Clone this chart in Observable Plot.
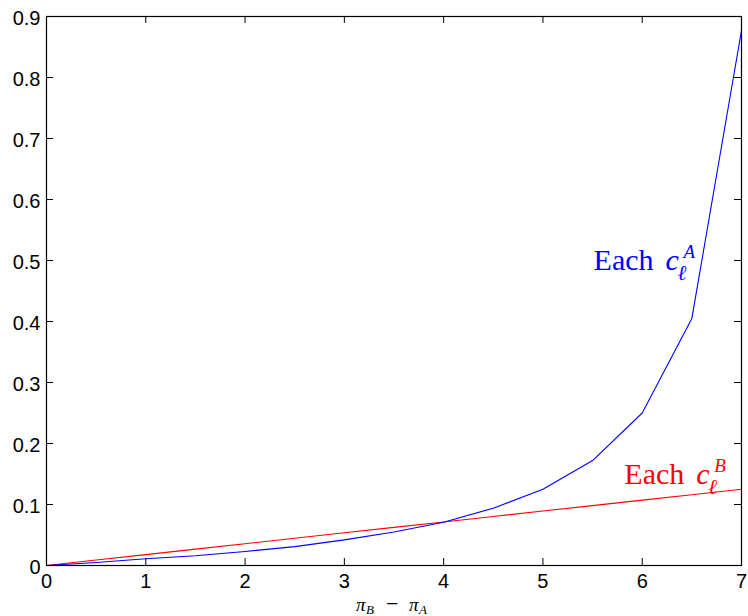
<!DOCTYPE html>
<html>
<head>
<meta charset="utf-8">
<script src="https://cdn.jsdelivr.net/npm/d3@7"></script>
<script src="https://cdn.jsdelivr.net/npm/@observablehq/plot@0.6"></script>
<style>
  html, body { margin: 0; padding: 0; background: #fff; }
  #chart { width: 748px; height: 616px; }
  svg { display: block; }
</style>
</head>
<body>
<div id="chart"></div>
<script>
// ---- data ----
const xValues = [0, 0.5, 1, 1.5, 2, 2.5, 3, 3.5, 4, 4.5, 5, 5.5, 6, 6.5, 7];
const seriesA = [0, 0.005, 0.011, 0.016, 0.023, 0.031, 0.042, 0.055, 0.071, 0.094, 0.125, 0.172, 0.25, 0.405, 0.877];
const seriesB = [0, 0.0089, 0.0179, 0.0268, 0.0357, 0.0446, 0.0536, 0.0625, 0.0714, 0.0804, 0.0893, 0.0982, 0.1071, 0.1161, 0.125];
const xTicks = [0, 1, 2, 3, 4, 5, 6, 7];
const yTicks = [0, 0.1, 0.2, 0.3, 0.4, 0.5, 0.6, 0.7, 0.8, 0.9];
const yTickLabels = ["0", "0.1", "0.2", "0.3", "0.4", "0.5", "0.6", "0.7", "0.8", "0.9"];
const labelWords = ["Each", "Each"];
const labelSymbol = ["c", "c"];
const labelSup = ["A", "B"];
const labelSub = ["\u2113", "\u2113"];
const labelX = [5.51, 5.82];
const labelY = [0.484, 0.133];
const labelColors = ["#0000ff", "#ff0000"];

const dataA = xValues.map((x, i) => ({x, y: seriesA[i]}));
const dataB = xValues.map((x, i) => ({x, y: seriesB[i]}));
const labels = labelWords.map((w, i) => ({w, s: labelSymbol[i], sup: labelSup[i], sub: labelSub[i], x: labelX[i], y: labelY[i], c: labelColors[i]}));

const W = 748, H = 616, mL = 46, mR = 7, mT = 16, mB = 51;
const pw = W - mL - mR, ph = H - mT - mB, tl = 7;
const serif = "'Liberation Serif', 'Times New Roman', serif";
const sans = "'Liberation Sans', Arial, Helvetica, sans-serif";

const base = {x: "x", y: "y", textAnchor: "start", lineAnchor: "bottom", fontFamily: serif, fill: d => d.c};
const tb = {frameAnchor: "bottom", textAnchor: "start", lineAnchor: "bottom", fontFamily: serif};

const chart = Plot.plot({
  width: W, height: H,
  marginLeft: mL, marginRight: mR, marginTop: mT, marginBottom: mB,
  x: {domain: [0, 7], label: null},
  y: {domain: [0, 0.9], label: null},
  style: {background: "#fff", color: "#000", fontFamily: sans},
  marks: [
    Plot.line(dataB, {x: "x", y: "y", stroke: "#ff0000", strokeWidth: 1.1}),
    Plot.line(dataA, {x: "x", y: "y", stroke: "#0000ff", strokeWidth: 1.1}),
    // inward ticks
    Plot.tickX(xTicks, {x: d => d, insetTop: ph - tl, stroke: "#000"}),
    Plot.tickX(xTicks, {x: d => d, insetBottom: ph - tl, stroke: "#000"}),
    Plot.tickY(yTicks, {y: d => d, insetRight: pw - tl, stroke: "#000"}),
    Plot.tickY(yTicks, {y: d => d, insetLeft: pw - tl, stroke: "#000"}),
    Plot.axisX(xTicks, {tickSize: 0, tickPadding: 8, fontSize: 20, fontFamily: sans, tickFormat: d => String(d), label: null}),
    Plot.axisY(yTicks, {tickSize: 0, tickPadding: 6, fontSize: 20, fontFamily: sans, dy: 2, tickFormat: (d, i) => yTickLabels[i], label: null}),
    Plot.frame({stroke: "#000", strokeWidth: 1.2}),
    // annotations
    Plot.text(labels, {...base, text: "w", fontSize: 30}),
    Plot.text(labels, {...base, text: "s", fontSize: 30, fontStyle: "italic", dx: 72}),
    Plot.text(labels, {...base, text: "sup", fontSize: 19, fontStyle: "italic", dx: 90, dy: -12}),
    Plot.text(labels, {...base, text: "sub", fontSize: 21, fontStyle: "italic", dx: 84, dy: 10}),
    // x-axis title: pi_B - pi_A
    Plot.text(["\u03C0"], {...tb, fontStyle: "italic", fontSize: 19, dx: -38, dy: 45}),
    Plot.text(["B"], {...tb, fontStyle: "italic", fontSize: 13, dx: -28, dy: 48}),
    Plot.text(["\u2212"], {...tb, fontSize: 22, dx: -8, dy: 45}),
    Plot.text(["\u03C0"], {...tb, fontStyle: "italic", fontSize: 19, dx: 15, dy: 45}),
    Plot.text(["A"], {...tb, fontStyle: "italic", fontSize: 13, dx: 25, dy: 48})
  ]
});
document.getElementById("chart").appendChild(chart);
</script>
</body>
</html>
